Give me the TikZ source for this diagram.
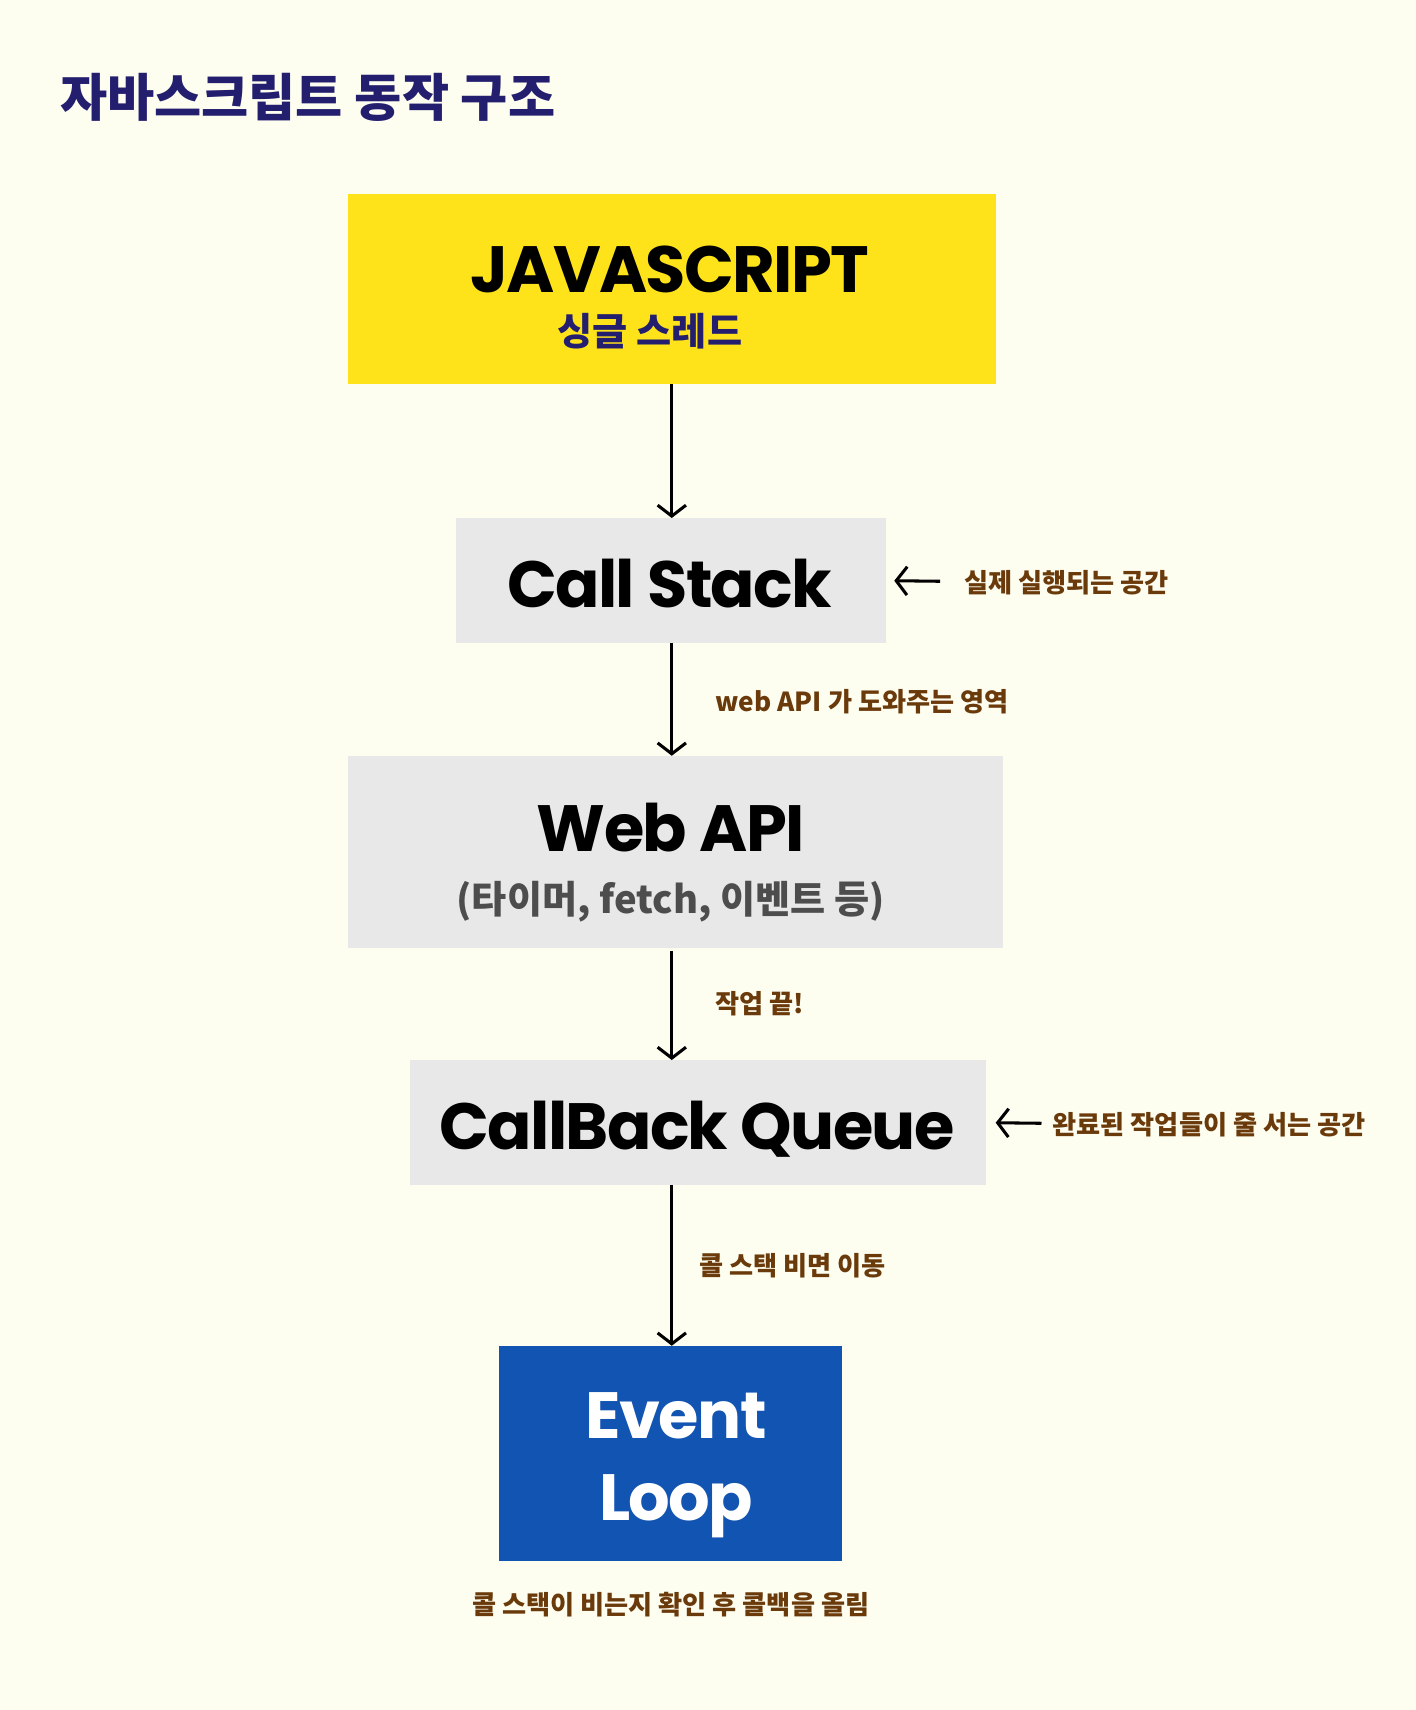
\documentclass[tikz,border=0pt]{standalone}
\usepackage{fontspec}
\usetikzlibrary{arrows.meta}
\newfontfamily\kr{Noto Sans CJK KR}
\newfontfamily\pop{Poppins}[LetterSpace=-2.5]
\definecolor{bgcol}{HTML}{FDFEF0}
\definecolor{navy}{HTML}{231F6E}
\definecolor{jsyellow}{HTML}{FFE31A}
\definecolor{boxgray}{HTML}{E8E8E8}
\definecolor{elblue}{HTML}{1154B2}
\definecolor{brownlbl}{HTML}{6B3A0B}
\definecolor{subgray}{HTML}{4D4D4D}
\begin{document}
\begin{tikzpicture}[x=1pt,y=-1pt,
  panel/.style={inner sep=0pt, outer sep=0pt},
  arr/.style={line width=2.8pt, -{Straight Barb[length=10pt,width=26pt]}},
  en/.style={font=\pop\bfseries\fontsize{60}{66}\selectfont, text=black, inner sep=0pt, anchor=base},
  lbl/.style={font=\kr\bfseries\fontsize{24}{28}\selectfont, text=brownlbl, inner sep=0pt, anchor=base west},
]
\fill[bgcol] (0,0) rectangle (1298,1568);
\useasboundingbox (0,0) rectangle (1298,1568);

\node[font=\kr\bfseries\fontsize{47}{52}\selectfont, text=navy, anchor=base west, inner sep=0pt] (title) at (55,107) {자바스크립트 동작 구조};

% boxes
\node[panel, fill=jsyellow, minimum width=594pt, minimum height=174pt] (js) at (616,265) {};
\node[panel, fill=boxgray, minimum width=394pt, minimum height=115pt] (cs) at (615,532.5) {};
\node[panel, fill=boxgray, minimum width=601pt, minimum height=176pt] (wa) at (619.5,781) {};
\node[panel, fill=boxgray, minimum width=528pt, minimum height=115pt] (cbq) at (640,1029.5) {};
\node[panel, fill=elblue, minimum width=314pt, minimum height=197pt] (el) at (615,1332.5) {};

% texts
\node[en] (jst) at (614,268) {JAVASCRIPT};
\node[font=\kr\bfseries\fontsize{35}{39}\selectfont, text=navy, inner sep=0pt, anchor=base] (jss) at (596,317) {싱글 스레드};
\node[en] (cst) at (614,557) {Call Stack};
\node[en] (wat) at (615,781) {Web API};
\node[font=\kr\bfseries\fontsize{35}{39}\selectfont, text=subgray, inner sep=0pt, anchor=base] (was) at (615,838) {(타이머, fetch, 이벤트 등)};
\node[en] (cbqt) at (639,1054) {CallBack Queue};
\node[en, text=white] (elt1) at (620,1319) {Event};
\node[en, text=white] (elt2) at (620,1394) {Loop};

% labels
\node[lbl] (l1) at (884,543) {실제 실행되는 공간};
\node[lbl] (l2) at (656,652) {web API 가 도와주는 영역};
\node[lbl] (l3) at (656,929) {작업 끝!};
\node[lbl] (l4) at (965,1040) {완료된 작업들이 줄 서는 공간};
\node[lbl] (l5) at (641,1170) {콜 스택 비면 이동};
\node[lbl, anchor=base] (l6) at (615,1480) {콜 스택이 비는지 확인 후 콜백을 올림};

% connectors
\draw[arr] (js.south) -- (js.south |- cs.north);
\draw[arr] (js.south |- cs.south) -- (js.south |- wa.north);
\draw[arr] ([yshift=-3pt]js.south |- wa.south) -- (js.south |- cbq.north);
\draw[arr] (js.south |- cbq.south) -- (js.south |- el.north);
\coordinate (a1) at (862,533);
\draw[arr] (a1) -- ([xshift=8pt]cs.east);
\coordinate (a2) at (955,1030);
\draw[arr] (a2) -- ([xshift=9pt]cbq.east);
\end{tikzpicture}
\end{document}
